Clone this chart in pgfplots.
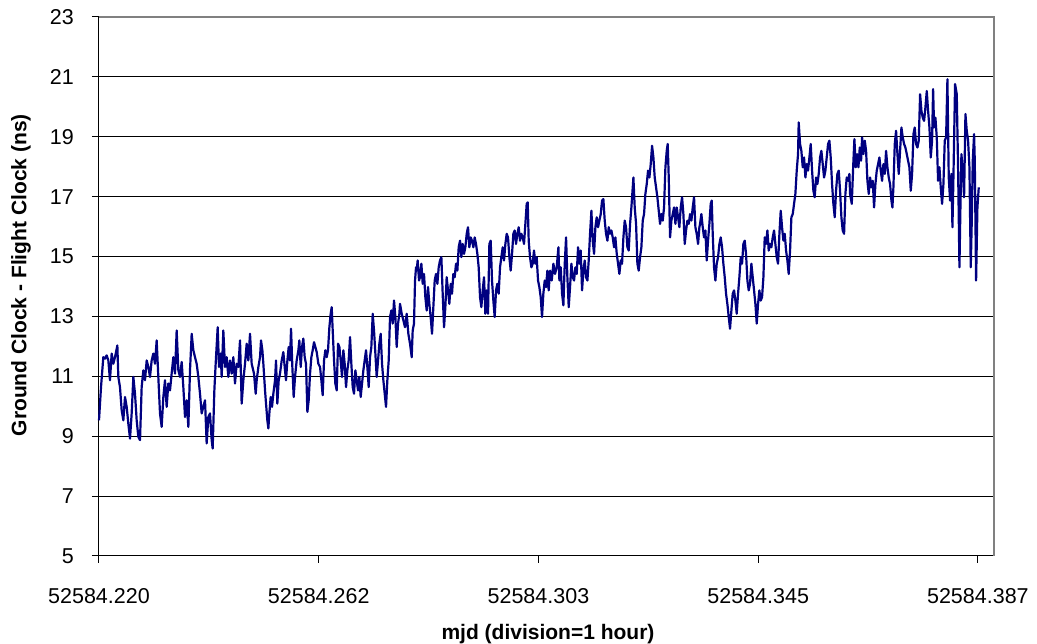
\documentclass[border=0pt]{standalone}
\usepackage{pgfplots}
\pgfplotsset{compat=1.18}
\usepackage{pgfplotstable}
\usepackage{fontspec}
\setmainfont{Liberation Sans}
\definecolor{navyline}{RGB}{0,0,128}
\definecolor{framegray}{RGB}{128,128,128}

\pgfplotstableread{
x y
0.00 9.53
0.55 10.64
1.18 11.64
1.64 11.59
2.09 11.70
2.55 11.53
3.00 10.87
3.46 11.76
3.91 11.42
4.37 11.64
5.01 12.03
5.28 10.98
5.73 10.64
6.19 9.87
6.65 9.53
7.10 10.31
7.56 9.98
8.01 9.42
8.47 8.92
8.92 9.76
9.38 10.98
9.83 10.42
10.29 9.53
10.74 8.98
11.20 8.87
11.65 10.64
12.11 11.20
12.56 10.87
13.02 11.53
13.47 11.31
13.93 10.98
14.38 11.53
14.84 11.76
15.29 11.42
15.75 12.20
16.20 10.98
16.66 9.76
17.11 9.31
17.57 10.31
18.02 10.87
18.48 9.98
18.93 10.76
19.39 10.53
19.84 11.09
20.30 11.64
20.76 11.09
21.21 12.53
21.67 11.20
22.12 10.98
22.58 11.48
23.03 10.64
23.49 9.64
23.94 10.20
24.40 9.31
24.85 11.20
25.31 12.42
25.76 11.87
26.22 11.64
26.67 11.42
27.13 10.98
27.58 10.42
28.04 9.76
28.49 9.98
28.95 10.20
29.40 8.76
29.86 9.64
30.31 9.76
30.77 8.87
31.04 8.59
31.50 10.53
31.86 11.42
32.41 12.64
32.77 11.31
33.23 11.76
33.50 10.98
33.95 12.53
34.41 11.31
34.86 11.64
35.32 10.98
35.77 11.53
36.23 11.09
36.68 11.64
37.14 10.76
37.59 11.42
38.05 11.31
38.51 12.20
38.96 10.09
39.42 10.87
39.87 11.42
40.33 12.09
40.78 11.53
41.24 12.42
41.69 11.42
42.33 11.09
42.79 10.42
43.06 10.87
43.52 11.31
43.97 11.64
44.24 12.20
44.61 11.87
44.88 11.42
45.34 10.53
45.61 10.09
45.97 9.53
46.25 9.26
46.52 9.76
46.88 10.31
47.25 9.98
47.61 10.42
48.07 10.87
48.34 11.53
48.70 10.09
49.07 10.87
49.43 11.09
49.89 11.53
50.34 11.81
50.71 11.31
51.07 10.87
51.44 11.53
51.80 11.98
52.16 11.53
52.44 12.59
52.80 11.31
53.16 10.31
53.53 10.98
53.98 11.53
54.44 11.87
54.71 12.20
55.08 11.31
55.44 11.98
55.80 12.26
56.17 11.64
56.53 11.42
56.90 9.81
57.26 10.20
57.63 11.09
57.99 11.64
58.35 11.87
58.72 12.14
59.08 11.98
59.45 11.81
59.90 11.42
60.36 11.31
60.72 10.87
61.08 10.37
61.45 11.53
61.81 11.87
62.18 11.64
62.54 11.87
62.91 12.64
63.27 13.09
63.54 13.31
63.82 12.53
64.18 11.53
64.54 10.76
64.91 10.53
65.27 12.09
65.64 11.98
66.00 11.53
66.36 10.98
66.73 11.87
67.09 11.42
67.46 10.64
67.82 11.20
68.18 11.53
68.55 12.31
68.91 11.42
69.28 10.64
69.64 10.42
70.01 11.20
70.37 10.87
70.73 10.53
71.10 10.98
71.46 10.31
71.83 10.76
72.19 11.20
72.55 11.53
72.92 11.87
73.28 11.31
73.65 10.64
74.01 11.64
74.37 11.98
74.74 13.09
75.10 12.53
75.47 11.76
75.83 10.98
76.20 11.53
76.56 12.09
76.92 12.42
77.29 11.42
77.65 10.87
78.02 10.42
78.38 9.98
78.74 10.87
79.11 11.53
79.47 12.98
79.84 13.20
80.20 12.76
80.56 13.53
80.93 12.98
81.29 11.98
81.66 12.76
82.02 13.09
82.20 13.42
82.66 13.09
83.11 12.87
83.57 12.64
84.02 13.09
84.48 12.42
84.93 12.09
85.39 11.64
85.66 12.53
86.02 12.76
86.30 14.20
86.57 14.64
86.75 14.53
87.02 14.87
87.39 14.20
87.66 14.31
88.03 14.76
88.39 14.09
88.75 14.42
89.12 13.64
89.48 13.20
89.85 13.98
90.21 13.42
90.57 12.98
90.94 12.42
91.30 13.31
91.67 14.20
92.03 14.42
92.40 14.09
92.76 14.64
93.12 14.87
93.49 14.98
93.85 13.76
94.22 12.64
94.58 13.31
94.94 14.31
95.31 13.87
95.67 13.42
96.04 14.09
96.40 13.76
96.76 14.42
97.13 14.31
97.49 14.76
97.86 14.53
98.22 15.31
98.59 15.53
98.95 14.98
99.31 15.42
99.68 15.09
100.04 15.31
100.41 15.76
100.77 15.98
101.13 15.31
101.50 15.64
101.86 15.53
102.23 15.31
102.59 15.64
102.95 15.42
103.32 15.09
103.68 14.64
104.05 13.64
104.41 13.31
104.78 13.87
105.14 14.31
105.50 13.09
105.87 13.87
106.23 13.09
106.60 15.42
106.96 15.53
107.32 14.20
107.69 13.53
108.05 12.98
108.42 13.87
108.78 14.09
109.14 13.76
109.51 14.64
109.87 14.98
110.24 15.31
110.60 14.87
110.97 15.42
111.33 15.76
111.69 15.64
112.06 14.98
112.42 14.53
112.79 15.09
113.15 15.76
113.51 15.87
113.88 15.42
114.24 15.76
114.61 15.98
114.97 15.53
115.33 15.76
115.70 15.64
116.06 15.42
116.43 16.09
116.79 16.76
117.07 16.81
117.34 15.53
117.70 14.98
118.07 14.64
118.43 14.76
118.79 15.20
119.16 14.76
119.52 14.98
119.89 14.20
120.25 13.98
120.62 13.64
120.98 12.98
121.34 13.76
121.71 14.20
122.07 13.98
122.44 14.53
122.80 13.87
123.17 14.53
123.63 14.20
124.08 14.76
124.54 14.42
124.99 14.64
125.45 15.31
125.72 14.20
126.08 14.64
126.45 13.76
126.81 13.37
127.18 14.76
127.54 15.64
127.90 14.31
128.27 13.31
128.63 13.98
129.00 14.76
129.36 14.31
129.72 14.20
130.09 14.64
130.45 14.42
130.82 15.31
131.18 14.76
131.54 15.20
131.91 13.87
132.27 14.53
132.64 14.87
133.00 14.31
133.37 14.20
133.73 14.87
134.09 15.76
134.46 16.53
134.82 15.53
135.19 15.09
135.55 15.98
135.91 16.31
136.28 15.98
136.64 16.20
137.01 16.42
137.37 16.87
137.73 16.92
138.10 16.20
138.46 15.76
138.83 15.53
139.19 15.98
139.56 15.76
139.92 15.87
140.28 15.64
140.65 15.31
141.01 15.64
141.38 15.09
141.74 14.76
142.10 14.42
142.47 14.87
142.83 14.76
143.20 15.64
143.56 16.20
143.92 15.98
144.29 15.31
144.65 15.20
145.02 16.09
145.38 16.64
145.75 17.31
145.93 17.64
146.29 16.64
146.66 16.09
147.02 14.76
147.38 14.53
147.75 14.98
148.11 15.31
148.48 16.20
148.84 16.42
149.20 17.09
149.57 17.42
149.93 17.87
150.30 17.64
150.66 18.09
151.03 18.70
151.39 18.31
151.75 17.64
152.12 17.31
152.48 16.98
152.85 16.53
153.21 16.09
153.57 16.42
153.94 16.20
154.30 16.64
154.67 17.98
155.03 18.53
155.30 18.76
155.58 17.64
155.94 15.64
156.30 16.20
156.67 16.42
157.03 16.64
157.40 16.09
157.76 16.64
158.13 16.31
158.49 15.98
158.85 16.64
159.22 16.98
159.58 16.42
159.95 15.42
160.31 15.87
160.67 16.20
161.04 16.09
161.40 16.42
161.77 16.20
162.13 16.64
162.49 16.98
162.86 15.98
163.22 15.76
163.59 15.42
163.95 15.98
164.13 16.09
164.49 16.42
164.86 15.98
165.22 15.64
165.59 15.87
165.95 14.87
166.31 15.53
166.68 16.09
167.04 16.76
167.32 16.87
167.59 15.76
167.95 14.64
168.32 14.20
168.68 14.76
169.05 14.98
169.41 15.42
169.77 15.64
170.14 15.31
170.50 14.76
170.87 14.31
171.23 13.76
171.59 13.42
171.96 12.98
172.32 12.59
172.69 13.20
173.05 13.76
173.42 13.87
173.78 13.53
174.14 13.09
174.51 13.76
174.87 14.31
175.24 14.98
175.60 14.76
175.96 15.42
176.33 15.53
176.69 15.09
177.06 14.20
177.42 13.87
177.78 14.09
178.15 14.76
178.51 14.31
178.88 13.87
179.24 13.42
179.61 12.76
179.97 13.42
180.33 13.87
180.70 13.53
181.06 13.64
181.43 14.31
181.79 15.64
182.15 15.42
182.52 15.87
182.88 15.20
183.25 15.42
183.61 15.31
183.97 15.64
184.34 15.87
184.70 15.42
185.07 14.98
185.43 14.76
185.80 15.76
186.16 16.53
186.52 15.98
186.89 15.53
187.25 15.76
187.62 15.20
187.98 14.87
188.34 14.42
188.71 15.20
189.07 16.31
189.44 16.42
189.80 16.76
190.16 17.09
190.53 17.87
190.89 18.42
191.07 19.48
191.44 18.76
191.80 18.53
192.17 17.98
192.53 18.31
192.90 17.64
193.26 18.09
193.62 17.87
193.99 18.31
194.35 18.76
194.72 17.87
195.08 17.20
195.44 16.98
195.81 17.64
196.17 17.42
196.54 17.76
196.90 18.31
197.26 18.53
197.63 18.09
197.99 17.64
198.36 17.87
198.72 18.31
199.09 18.76
199.45 18.87
199.81 18.31
200.18 17.42
200.54 16.76
200.91 16.31
201.27 17.20
201.63 17.76
202.00 17.87
202.36 17.20
202.73 16.31
203.09 15.87
203.46 15.76
203.82 17.09
204.18 17.64
204.55 17.53
204.91 17.76
205.10 17.09
205.56 16.76
206.01 18.20
206.28 18.92
206.65 17.98
207.01 18.42
207.38 17.98
207.74 18.64
208.10 18.20
208.38 18.98
208.74 18.42
209.11 18.87
209.47 18.53
209.83 17.53
210.20 17.09
210.56 17.64
210.93 17.31
211.29 17.53
211.65 16.64
212.02 17.42
212.38 17.87
212.75 18.09
213.11 18.31
213.47 17.87
213.84 17.53
214.20 18.09
214.57 17.76
214.93 18.53
215.30 17.98
215.66 17.64
216.02 17.42
216.39 16.87
216.66 16.64
216.93 17.31
217.30 18.76
217.66 19.20
218.03 18.42
218.39 17.76
218.75 18.53
219.12 19.31
219.48 18.98
219.85 18.76
220.21 18.64
220.58 18.42
220.94 18.20
221.30 17.98
221.67 17.20
222.03 17.76
222.40 19.09
222.76 19.31
223.12 18.76
223.49 18.64
223.85 18.87
224.22 20.42
224.58 19.87
224.94 19.64
225.31 19.53
225.67 19.98
226.04 20.53
226.40 19.87
226.77 19.31
227.13 18.31
227.49 18.87
227.77 20.59
228.04 19.31
228.40 19.64
228.77 18.98
229.13 17.53
229.50 17.98
229.86 17.31
230.22 16.76
230.59 17.42
230.95 18.87
231.32 18.98
231.68 20.92
232.04 17.64
232.41 16.87
232.77 17.76
233.05 15.98
233.32 17.64
233.77 20.76
234.23 20.42
234.59 17.98
234.96 14.64
235.23 16.64
235.50 18.42
235.87 17.87
236.23 16.98
236.60 19.76
236.96 19.20
237.32 18.87
237.69 17.98
238.05 14.64
238.33 16.20
238.60 18.20
238.96 19.09
239.15 18.20
239.51 14.20
239.87 16.64
240.24 17.31
}\clockdata

\begin{document}
\begin{tikzpicture}
\useasboundingbox (0,0) rectangle (1037pt,644pt);
\begin{axis}[
  at={(99pt,88pt)}, anchor=south west,
  scale only axis, width=895pt, height=539pt,
  xmin=0, xmax=244.4, ymin=5, ymax=23,
  xtick={0,60,120,180,240},
  xticklabels={52584.220,52584.262,52584.303,52584.345,52584.387},
  ytick={5,7,...,23},
  /pgf/number format/assume math mode=true,
  axis x line*=bottom, axis y line*=left,
  axis line style={black, line width=1pt},
  tick align=outside, major tick length=7pt,
  tick style={black, line width=1pt},
  ymajorgrids, major grid style={black, line width=1pt},
  tick label style={font=\fontsize{21.5}{26}\selectfont},
  xticklabel style={anchor=north, inner sep=0pt, yshift=-25pt},
  yticklabel style={anchor=east, inner sep=0pt, xshift=-18pt},
  xlabel={mjd (division=1 hour)},
  ylabel={Ground Clock - Flight Clock (ns)},
  label style={font=\bfseries\fontsize{21}{25}\selectfont},
  xlabel style={at={(axis description cs:0.5017,-0.1558)}, anchor=base, inner sep=0pt},
  ylabel style={at={(axis description cs:-0.0872,0.521)}, anchor=center, inner sep=0pt},
  clip=false,
]
\addplot[navyline, line width=2.2pt, line join=round] table[x=x, y=y] {\clockdata};
\draw[framegray, line width=2pt] (rel axis cs:0,1) -- (rel axis cs:1,1) -- (rel axis cs:1,0);
\end{axis}
\end{tikzpicture}
\end{document}
